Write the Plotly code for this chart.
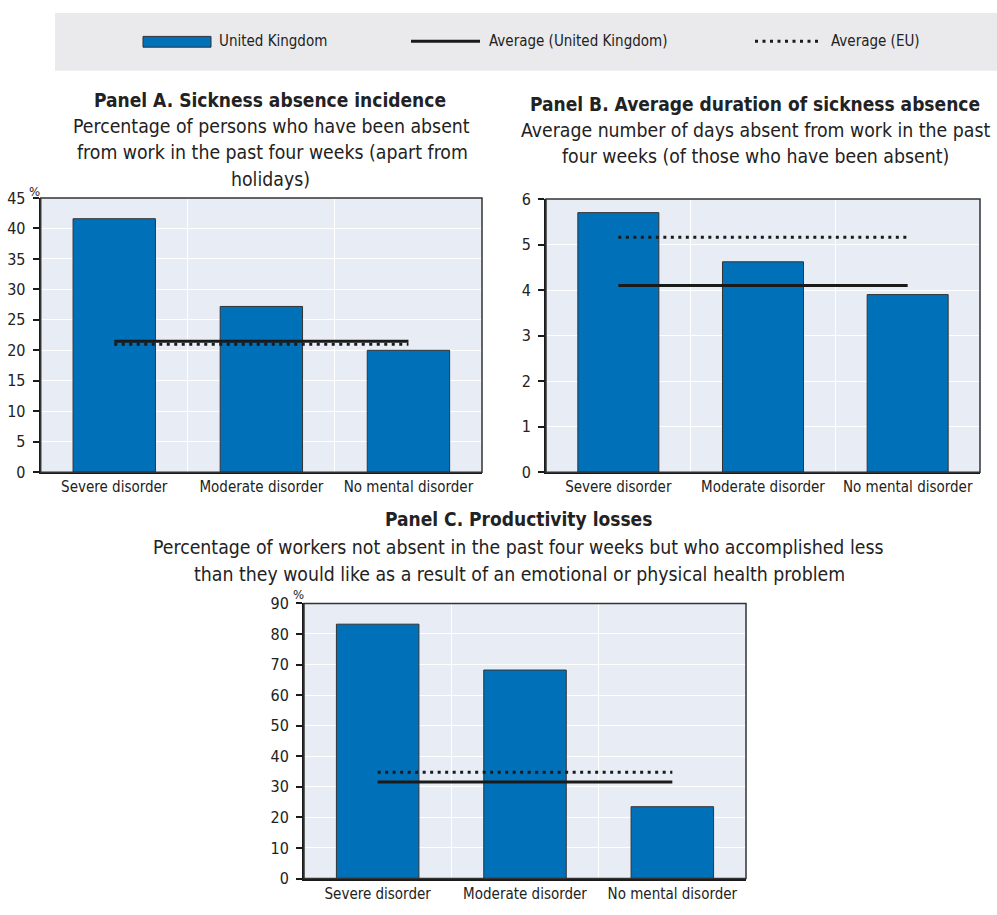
import plotly.graph_objects as go

# Data
categories = ["Severe disorder", "Moderate disorder", "No mental disorder"]

incidence_uk = [41.6, 27.2, 20.0]
incidence_avg_uk = 21.5
incidence_avg_eu = 21.0

duration_uk = [5.7, 4.62, 3.9]
duration_avg_uk = 4.1
duration_avg_eu = 5.16

productivity_uk = [83.2, 68.2, 23.5]
productivity_avg_uk = 31.6
productivity_avg_eu = 34.8

W, H = 997, 915
FONT = "DejaVu Sans Condensed, Liberation Sans, sans-serif"
BAR = "#0070B8"
PLOT_BG = "#E8ECF5"
INK = "#1a1a1a"
TXT = "#222222"


def px_x(x):
    return x / W


def px_y(y):
    return 1 - y / H


fig = go.Figure()

panels = [
    dict(vals=incidence_uk, avg_uk=incidence_avg_uk, avg_eu=incidence_avg_eu,
         x="x", y="y", xd=(40.7, 482), yd=(193, 473), rng=(0, 45), dt=5),
    dict(vals=duration_uk, avg_uk=duration_avg_uk, avg_eu=duration_avg_eu,
         x="x2", y="y2", xd=(546, 980), yd=(194, 473), rng=(0, 6), dt=1),
    dict(vals=productivity_uk, avg_uk=productivity_avg_uk, avg_eu=productivity_avg_eu,
         x="x3", y="y3", xd=(304, 746), yd=(607, 888), rng=(0, 90), dt=10),
]

for i, p in enumerate(panels):
    fig.add_trace(go.Bar(
        x=categories, y=p["vals"], xaxis=p["x"], yaxis=p["y"],
        marker=dict(color=BAR, line=dict(color="#333333", width=1)),
        width=0.56, name="United Kingdom", showlegend=False,
    ))
    fig.add_trace(go.Scatter(
        x=categories, y=[p["avg_eu"]] * 3, xaxis=p["x"], yaxis=p["y"],
        mode="lines", line=dict(color=INK, width=3, dash="3px,4.5px"),
        name="Average (EU)", showlegend=False, hoverinfo="skip",
    ))
    fig.add_trace(go.Scatter(
        x=categories, y=[p["avg_uk"]] * 3, xaxis=p["x"], yaxis=p["y"],
        mode="lines", line=dict(color=INK, width=3),
        name="Average (United Kingdom)", showlegend=False, hoverinfo="skip",
    ))

    suffix = "" if i == 0 else str(i + 1)
    fig.layout["xaxis" + suffix] = dict(
        domain=[px_x(p["xd"][0]), px_x(p["xd"][1])],
        anchor=p["y"], type="category", tickson="boundaries",
        showgrid=True, gridcolor="white", gridwidth=1,
        ticks="", ticklen=0, tickangle=0, showline=True, linecolor=INK, linewidth=2,
        tickfont=dict(family=FONT, size=15, color=TXT),
        range=[-0.5, 2.5], fixedrange=True,
    )
    fig.layout["yaxis" + suffix] = dict(
        domain=[px_y(p["yd"][1]), px_y(p["yd"][0])],
        anchor=p["x"], range=list(p["rng"]), dtick=p["dt"], tick0=0,
        showgrid=True, gridcolor="white", gridwidth=1, zeroline=False,
        ticks="outside", ticklen=6, tickcolor=INK, tickwidth=1.5,
        ticklabelstandoff=4,
        showline=True, linecolor=INK, linewidth=2,
        tickfont=dict(family=FONT, size=16, color=TXT),
        fixedrange=True,
    )
    # thin frame on top and right
    fig.add_shape(type="rect", xref=p["x"] + " domain", yref=p["y"] + " domain",
                  x0=0, x1=1, y0=0, y1=1, line=dict(color="#333333", width=1.5),
                  layer="above")

# Legend box
fig.add_shape(type="rect", xref="paper", yref="paper",
              x0=px_x(55), x1=px_x(997), y0=px_y(63), y1=px_y(4),
              fillcolor="#EAEAEC", line=dict(width=0), layer="below")
fig.add_shape(type="rect", xref="paper", yref="paper",
              x0=px_x(143), x1=px_x(211), y0=px_y(39), y1=px_y(28),
              fillcolor=BAR, line=dict(color="#333333", width=1))
fig.add_shape(type="line", xref="paper", yref="paper",
              x0=px_x(411), x1=px_x(480), y0=px_y(33), y1=px_y(33),
              line=dict(color=INK, width=3))
fig.add_shape(type="line", xref="paper", yref="paper",
              x0=px_x(755), x1=px_x(822), y0=px_y(33), y1=px_y(33),
              line=dict(color=INK, width=3, dash="3px,4.5px"))

annotations = []


def text(x, y, s, size=16, bold=False, xanchor="left"):
    annotations.append(dict(
        x=px_x(x), y=px_y(y), xref="paper", yref="paper", text=("<b>%s</b>" % s) if bold else s,
        showarrow=False, xanchor=xanchor, yanchor="middle",
        font=dict(family=FONT, size=size, color=TXT),
    ))


text(217, 33, "United Kingdom", size=15)
text(487, 33, "Average (United Kingdom)", size=15)
text(829, 33, "Average (EU)", size=15)

TS = 19
SS = 19.3
text(270, 93, "Panel A. Sickness absence incidence", size=TS, bold=True, xanchor="center")
text(271, 120, "Percentage of persons who have been absent", size=SS, xanchor="center")
text(272, 147, "from work in the past four weeks (apart from", size=SS, xanchor="center")
text(270, 174, "holidays)", size=SS, xanchor="center")

text(755, 97, "Panel B. Average duration of sickness absence", size=TS, bold=True, xanchor="center")
text(755, 124, "Average number of days absent from work in the past", size=SS, xanchor="center")
text(755, 151, "four weeks (of those who have been absent)", size=SS, xanchor="center")

text(518, 521, "Panel C. Productivity losses", size=TS, bold=True, xanchor="center")
text(518, 550, "Percentage of workers not absent in the past four weeks but who accomplished less", size=SS, xanchor="center")
text(519, 577, "than they would like as a result of an emotional or physical health problem", size=SS, xanchor="center")

text(27, 186, "%", size=13)
text(291, 598, "%", size=13)

fig.update_layout(
    width=W, height=H, margin=dict(l=0, r=0, t=0, b=0),
    paper_bgcolor="white", plot_bgcolor=PLOT_BG,
    showlegend=False, bargap=0.44, annotations=annotations,
    font=dict(family=FONT),
)

fig.write_html("out.html")
